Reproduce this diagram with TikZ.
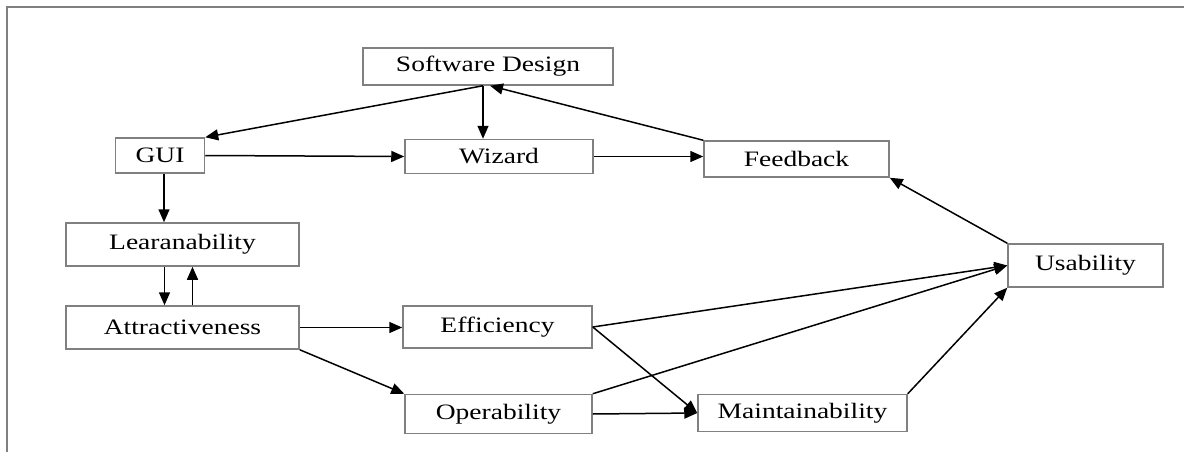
\documentclass[tikz,border=0pt]{standalone}
\usepackage{fontspec}
\setmainfont[FakeStretch=1.25]{Liberation Serif}
\usetikzlibrary{arrows.meta, positioning, calc}

\begin{document}
\begin{tikzpicture}[x=1pt, y=-1pt,
        box/.style={draw=gray, line width=1.5pt, inner sep=0pt,
            font=\fontsize{22}{26}\selectfont},
        arr/.style={-{Triangle[length=13pt, width=11pt]}, line width=1.5pt}]
        \useasboundingbox (0, 0) rectangle (1184, 452);
        \draw[gray, line width=2.2pt] (7, 452) -- (7, 7) -- (1184, 7);
        \node[box, minimum width=250pt, minimum height=37pt] (sd) at (488, 66.5) {Software Design};
        \node[box, minimum width=89pt, minimum height=35pt] (gui) at (160, 155.5) {GUI};
        \node[box, minimum width=188pt, minimum height=34pt] (wiz) at (499, 156.5) {Wizard};
        \node[box, minimum width=185pt, minimum height=36pt] (fb) at (796.5, 159) {Feedback};
        \node[box, minimum width=233pt, minimum height=43pt] (lea) at (182.5, 244.5) {Learanability};
        \node[box, minimum width=233pt, minimum height=43pt] (att) at (182.5, 327.5) {Attractiveness};
        \node[box, minimum width=189pt, minimum height=42pt] (eff) at (497.5, 327) {Efficiency};
        \node[box, minimum width=187pt, minimum height=39pt] (ope) at (498.5, 414) {Operability};
        \node[box, minimum width=209pt, minimum height=37pt] (mai) at (802.5, 413) {Maintainability};
        \node[box, minimum width=155pt, minimum height=43pt] (usa) at (1085.5, 265.5) {Usability};
        \draw[arr] ([xshift=-5pt]sd.south) -- (gui.north east);
        \draw[arr] ([xshift=-5pt]sd.south) -- ([xshift=-5pt]sd.south |- wiz.north);
        \draw[arr] (fb.north west) -- ([xshift=2pt]sd.south);
        \draw[arr] (gui.east) -- (wiz.west);
        \draw[arr] (wiz.east) -- (wiz.east -| fb.west);
        \draw[arr] ([xshift=4pt]gui.south) -- ([xshift=4pt]gui.south |- lea.north);
        \draw[arr] ([xshift=-18pt]lea.south) -- ([xshift=-18pt]lea.south |- att.north);
        \draw[arr] ([xshift=10pt]att.north) -- ([xshift=10pt]att.north |- lea.south);
        \draw[arr] (att.east) -- (att.east -| eff.west);
        \draw[arr] (att.south east) -- (ope.north west);
        \draw[arr] (eff.east) -- (usa.west);
        \draw[arr] (ope.north east) -- (usa.west);
        \draw[arr] (eff.east) -- (mai.west);
        \draw[arr] (ope.east) -- (mai.west);
        \draw[arr] (mai.north east) -- (usa.south west);
        \draw[arr] (usa.north west) -- (fb.south east);
    \end{tikzpicture}
\end{document}
